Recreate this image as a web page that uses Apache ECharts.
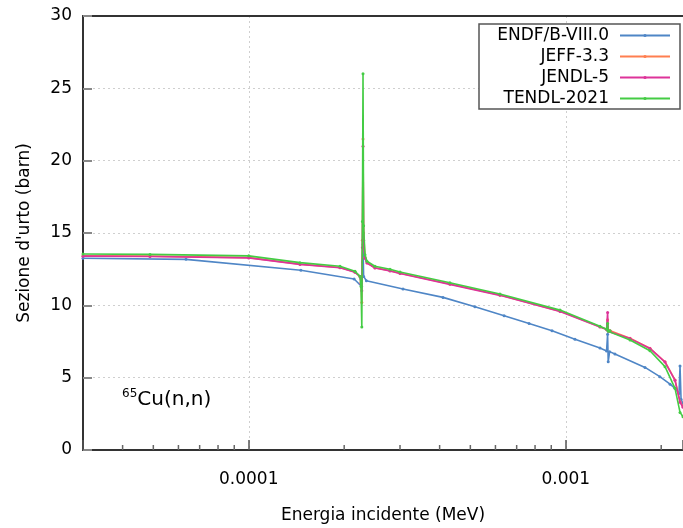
<!DOCTYPE html>
<html><head><meta charset="utf-8">
<script src="https://cdn.jsdelivr.net/npm/echarts@6/dist/echarts.min.js"></script>
<style>html,body{margin:0;padding:0;background:#fff;overflow:hidden}#c{width:683px;height:528px}</style>
</head><body><div id="c"></div>
<script>
// ---- data ----
const seriesNames = ['ENDF/B-VIII.0', 'JEFF-3.3', 'JENDL-5', 'TENDL-2021'];
const seriesColors = ['#4f86c6', '#ff7f50', '#dd3399', '#44cc44'];

const endfE = [3.0e-5, 6.34e-5, 1.46e-4, 2.15e-4, 2.27e-4, 2.283e-4, 2.293e-4, 2.303e-4, 2.35e-4, 3.066e-4,
  4.10e-4, 5.17e-4, 6.39e-4, 7.66e-4, 9.05e-4, 1.069e-3, 1.282e-3, 1.345e-3, 1.355e-3, 1.361e-3,
  1.375e-3, 1.429e-3, 1.778e-3, 1.98e-3, 2.133e-3, 2.211e-3, 2.276e-3, 2.293e-3, 2.31e-3, 2.343e-3];
const endfS = [13.25, 13.18, 12.42, 11.82, 11.3, 13.0, 14.2, 12.0, 11.7, 11.13,
  10.55, 9.9, 9.28, 8.75, 8.25, 7.65, 7.05, 6.85, 8.0, 6.1,
  6.8, 6.63, 5.71, 5.07, 4.55, 4.26, 3.9, 5.8, 3.5, 3.2];

const evalE = [3.0e-5, 4.88e-5, 1.0e-4, 1.451e-4, 1.94e-4, 2.163e-4, 2.244e-4, 2.26e-4, 2.273e-4, 2.283e-4,
  2.293e-4, 2.303e-4, 2.326e-4, 2.36e-4, 2.50e-4, 2.79e-4, 3.0e-4, 4.31e-4, 6.20e-4, 9.59e-4,
  1.282e-3, 1.345e-3, 1.355e-3, 1.361e-3, 1.379e-3, 1.595e-3, 1.843e-3, 2.056e-3, 2.211e-3, 2.293e-3, 2.343e-3];
const jeffS = [13.42, 13.40, 13.30, 12.85, 12.62, 12.30, 12.00, 11.60, 10.20, 14.50,
  21.50, 15.00, 13.30, 12.95, 12.60, 12.40, 12.22, 11.47, 10.71, 9.60,
  8.52, 8.35, 9.00, 8.30, 8.25, 7.72, 7.03, 6.10, 4.84, 3.34, 3.00];
const jendlS = [13.40, 13.38, 13.28, 12.83, 12.60, 12.28, 11.98, 11.50, 11.00, 14.00,
  21.00, 14.50, 13.25, 12.92, 12.58, 12.38, 12.20, 11.45, 10.69, 9.58,
  8.50, 8.33, 9.50, 8.20, 8.22, 7.70, 7.02, 6.08, 4.82, 3.30, 2.95];
const tendlS = [13.55, 13.52, 13.42, 12.95, 12.70, 12.35, 12.00, 11.30, 8.50, 15.80,
  26.00, 15.50, 13.50, 13.05, 12.70, 12.50, 12.30, 11.56, 10.78, 9.67,
  8.55, 8.35, 8.75, 8.20, 8.25, 7.60, 6.86, 5.76, 4.26, 2.60, 2.30];

const xTickValues = [1e-4, 1e-3];
const xTickLabels = ['0.0001', '0.001'];
const xMinorTicks = [4e-5, 5e-5, 6e-5, 7e-5, 8e-5, 9e-5, 2e-4, 3e-4, 4e-4, 5e-4, 6e-4, 7e-4, 8e-4, 9e-4, 2e-3];
const xMin = 3e-5, xMax = 2.343e-3;
const yMin = 0, yMax = 30, yStep = 5;

// ---- chart ----
const FONT = 'DejaVu Sans';
function pairs(xs, ys) { return xs.map((x, i) => [x, ys[i]]); }
const seriesData = [pairs(endfE, endfS), pairs(evalE, jeffS), pairs(evalE, jendlS), pairs(evalE, tendlS)];

const chart = echarts.init(document.getElementById('c'), null, { renderer: 'canvas' });
const lineSeries = seriesNames.map((n, i) => ({
  name: n, type: 'line', data: seriesData[i],
  xAxisIndex: 0, yAxisIndex: 0,
  symbol: 'circle', symbolSize: 3, showSymbol: true,
  lineStyle: { color: seriesColors[i], width: 1.6 },
  itemStyle: { color: seriesColors[i] },
  emphasis: { disabled: true }, z: 3 + i
}));

const option = {
  animation: false,
  backgroundColor: '#fff',
  textStyle: { fontFamily: FONT },
  grid: { left: 83, right: 0, top: 16, bottom: 78, containLabel: false, outerBoundsMode: 'none' },
  legend: {
    data: seriesNames, orient: 'vertical', align: 'right',
    left: 479, top: 24, itemWidth: 50, itemHeight: 4, itemGap: 0,
    padding: [1, 9, 0, 6],
    backgroundColor: '#fff', borderColor: '#555', borderWidth: 1.5,
    textStyle: { fontFamily: FONT, fontSize: 17, color: '#000', width: 124, align: 'right', lineHeight: 21, padding: [0, 6, 0, 0] },
    lineStyle: { width: 2 }
  },
  xAxis: [{
    type: 'log', logBase: 10, min: xMin, max: xMax,
    name: 'Energia incidente (MeV)', nameLocation: 'middle', nameGap: 57,
    nameTextStyle: { fontFamily: FONT, fontSize: 17, color: '#000' },
    axisLine: { lineStyle: { color: '#333', width: 2 } },
    axisTick: { inside: true, length: 10, lineStyle: { color: '#555', width: 1.5 } },
    axisLabel: {
      margin: 21, fontFamily: FONT, fontSize: 17, color: '#000',
      formatter: v => { for (let k = 0; k < xTickValues.length; k++) { if (Math.abs(Math.log10(v) - Math.log10(xTickValues[k])) < 1e-6) return xTickLabels[k]; } return ''; }
    },
    splitLine: { show: true, lineStyle: { color: '#cfcfcf', type: [2, 3], width: 1 } }
  }, {
    type: 'value', position: 'top', min: 0, max: 1,
    axisLine: { show: true, onZero: false, lineStyle: { color: '#333', width: 2 } },
    axisTick: { show: false }, axisLabel: { show: false }, splitLine: { show: false }
  }],
  yAxis: {
    type: 'value', min: yMin, max: yMax, interval: yStep,
    name: "Sezione d'urto (barn)", nameLocation: 'middle', nameGap: 50,
    nameTextStyle: { fontFamily: FONT, fontSize: 17, color: '#000' },
    axisLine: { show: true, lineStyle: { color: '#333', width: 2 } },
    axisTick: { show: true, inside: true, length: 9, lineStyle: { color: '#888', width: 2 } },
    axisLabel: { margin: 11, fontFamily: FONT, fontSize: 17, color: '#000' },
    splitLine: { show: true, lineStyle: { color: '#cfcfcf', type: [2, 3], width: 1 } }
  },
  graphic: [{
    type: 'text', left: 122, top: 388, z: 10,
    style: {
      text: '{s|65}{m|Cu(n,n)}',
      rich: {
        s: { fontFamily: FONT, fontSize: 12, fill: '#000', verticalAlign: 'top', lineHeight: 24 },
        m: { fontFamily: FONT, fontSize: 20, fill: '#000', lineHeight: 24 }
      }
    }
  }],
  series: lineSeries.concat([{
    type: 'custom', name: 'minorTicks', silent: true, clip: false, z: 10,
    xAxisIndex: 0, yAxisIndex: 0,
    data: xMinorTicks.map(v => [v, 0]),
    renderItem: (params, api) => {
      const p = api.coord([api.value(0), 0]);
      return { type: 'line', shape: { x1: p[0], y1: p[1], x2: p[0], y2: p[1] - 5 }, style: { stroke: '#666', lineWidth: 1.5 } };
    }
  }])
};
chart.setOption(option);
</script></body></html>
